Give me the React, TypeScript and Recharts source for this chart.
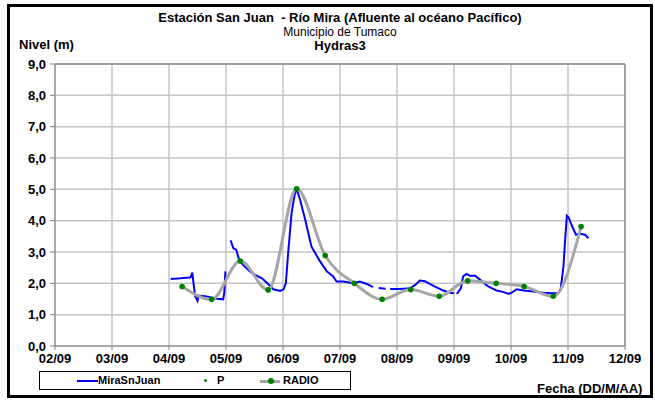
import {
  CartesianGrid,
  Line,
  LineChart,
  ReferenceLine,
  XAxis,
  YAxis,
} from "recharts";

// Nivel del río Mira en la estación San Juan (sensor Hydras3) + lecturas de radio
const blueDays = [
  4.03, 4.2, 4.31, 4.38, 4.41, 4.43, 4.46, 4.5, 4.52, 4.66, 4.84, 4.95, 4.97, 4.99,
  5.03, 5.08, 5.13, 5.18, 5.23, 5.3, 5.42, 5.51, 5.63, 5.74, 5.83, 5.95, 6.01,
  6.05, 6.09, 6.15, 6.21, 6.24, 6.3, 6.39, 6.5, 6.65, 6.77, 6.88, 6.94, 7.06,
  7.23, 7.35, 7.47, 7.58, 7.62, 7.68, 7.8, 7.84, 7.88, 8.05, 8.23, 8.32, 8.4,
  8.49, 8.64, 8.81, 8.93, 9.0, 9.03, 9.05, 9.12, 9.16, 9.22, 9.28, 9.37, 9.46,
  9.6, 9.75, 9.87, 9.96, 10.01, 10.1, 10.22, 10.39, 10.57, 10.74, 10.83, 10.87,
  10.92, 10.95, 10.98, 11.01, 11.06, 11.14, 11.21, 11.3, 11.36,
];
const blueLevels: (number | null)[] = [
  2.14, 2.16, 2.18, 2.19, 2.34, 2.0, 1.58, 1.44, 1.61, 1.58, 1.51, 1.49, 1.7, 2.38,
  null, 3.37, 3.12, 3.07, 2.75, 2.59, 2.38, 2.27, 2.16, 1.98, 1.81, 1.76, 1.81,
  2.0, 2.96, 4.24, 4.88, 5.0, 4.67, 4.03, 3.17, 2.7, 2.38, 2.22, 2.06, 2.06,
  2.0, 2.06, 1.98, 1.88, null, 1.85, 1.83, null, 1.82, 1.82, 1.84, 1.95, 2.09,
  2.07, 1.92, 1.77, 1.7, 1.68, null, 1.66, 1.84, 2.22, 2.3, 2.24, 2.24, 2.11,
  1.9, 1.77, 1.72, 1.66, 1.7, 1.81, 1.77, 1.74, 1.7, 1.68, 1.68, 1.79,
  2.54, 3.39, 4.16, 4.11, 3.87, 3.55, 3.58, 3.55, 3.44,
];

const radioDays = [
  4.23, 4.75, 5.25, 5.74, 6.24, 6.74, 7.25, 7.74, 8.24, 8.74, 9.24, 9.74, 10.23,
  10.74, 11.23,
];
const radioLevels = [
  1.9, 1.49, 2.71, 1.79, 5.02, 2.89, 2.0, 1.49, 1.8, 1.59, 2.08, 2.0, 1.9, 1.59,
  3.81,
];

const xTicks = [2, 3, 4, 5, 6, 7, 8, 9, 10, 11, 12];
const yTicks = [0, 1, 2, 3, 4, 5, 6, 7, 8, 9];

const blueData = blueDays.map((x, i) => ({ x, y: blueLevels[i] }));
const radioData = radioDays.map((x, i) => ({ x, y: radioLevels[i] }));

const font = '"Liberation Sans", Arial, sans-serif';
const tickStyle = { fontSize: 13, fontWeight: 700, fill: "#000", fontFamily: font };
const titleLine = {
  position: "absolute" as const,
  left: 140,
  width: 400,
  textAlign: "center" as const,
  lineHeight: "normal",
};

export default function App() {
  return (
    <div
      style={{
        position: "absolute",
        left: 0,
        top: 0,
        width: 655,
        height: 400,
        background: "#fff",
        fontFamily: font,
        color: "#000",
      }}
    >
      <div
        style={{
          position: "absolute",
          left: 7,
          top: 4,
          width: 646,
          height: 394,
          border: "3px solid #000",
          boxSizing: "border-box",
        }}
      />
      <div style={{ ...titleLine, top: 9.5, fontSize: 13, fontWeight: 700 }}>
        Estación San Juan&nbsp; - Río Mira (Afluente al océano Pacífico)
      </div>
      <div style={{ ...titleLine, top: 24.6, fontSize: 12 }}>Municipio de Tumaco</div>
      <div style={{ ...titleLine, top: 38, fontSize: 13, fontWeight: 700 }}>Hydras3</div>
      <div style={{ position: "absolute", left: 19, top: 36.5, fontSize: 13, lineHeight: "normal", fontWeight: 700 }}>
        Nivel (m)
      </div>

      <LineChart
        width={655}
        height={400}
        margin={{ top: 64, right: 30, bottom: 34, left: 0 }}
        style={{ position: "absolute", left: 0, top: 0 }}
      >
        <CartesianGrid stroke="#c4c4c4" strokeWidth={1.5} />
        <XAxis
          dataKey="x"
          type="number"
          domain={[2, 12]}
          ticks={xTicks}
          allowDataOverflow
          tickFormatter={(d) => String(d).padStart(2, "0") + "/09"}
          stroke="#808080"
          tickSize={4}
          tickMargin={4}
          height={20}
          tick={tickStyle}
          interval={0}
        />
        <YAxis
          type="number"
          domain={[0, 9]}
          ticks={yTicks}
          tickFormatter={(v) => Number(v).toFixed(1).replace(".", ",")}
          stroke="#808080"
          tickSize={5}
          tickMargin={4}
          width={55}
          tick={tickStyle}
          interval={0}
        />
        <ReferenceLine y={9} stroke="#909090" strokeWidth={1.5} />
        <ReferenceLine x={12} stroke="#909090" strokeWidth={1.5} />
        <Line
          data={blueData}
          dataKey="y"
          type="linear"
          stroke="#0000ff"
          strokeWidth={2}
          dot={false}
          connectNulls={false}
          isAnimationActive={false}
        />
        <Line
          data={radioData}
          dataKey="y"
          type="monotone"
          stroke="#a6a6a6"
          strokeWidth={3}
          dot={{ r: 2.8, fill: "#008000", stroke: "none" }}
          isAnimationActive={false}
        />
      </LineChart>

      {/* leyenda */}
      <div
        style={{
          position: "absolute",
          left: 39,
          top: 371,
          width: 312,
          height: 19,
          border: "1px solid #000",
          boxSizing: "border-box",
          fontSize: 11,
          fontWeight: 700,
        }}
      >
        <span style={{ position: "absolute", left: 37, top: 8, width: 21, height: 2, background: "#0000ff" }} />
        <span style={{ position: "absolute", left: 58, top: 2 }}>MiraSnJuan</span>
        <span style={{ position: "absolute", left: 164, top: 7, width: 3, height: 3, borderRadius: 2, background: "#008000" }} />
        <span style={{ position: "absolute", left: 177, top: 2 }}>P</span>
        <span style={{ position: "absolute", left: 220, top: 8, width: 20, height: 3, background: "#a6a6a6" }} />
        <span style={{ position: "absolute", left: 228, top: 6, width: 6, height: 6, borderRadius: 3, background: "#008000" }} />
        <span style={{ position: "absolute", left: 243, top: 2 }}>RADIO</span>
      </div>
      <div style={{ position: "absolute", left: 537, top: 381, fontSize: 13, fontWeight: 700 }}>
        Fecha (DD/M/AA)
      </div>
    </div>
  );
}
